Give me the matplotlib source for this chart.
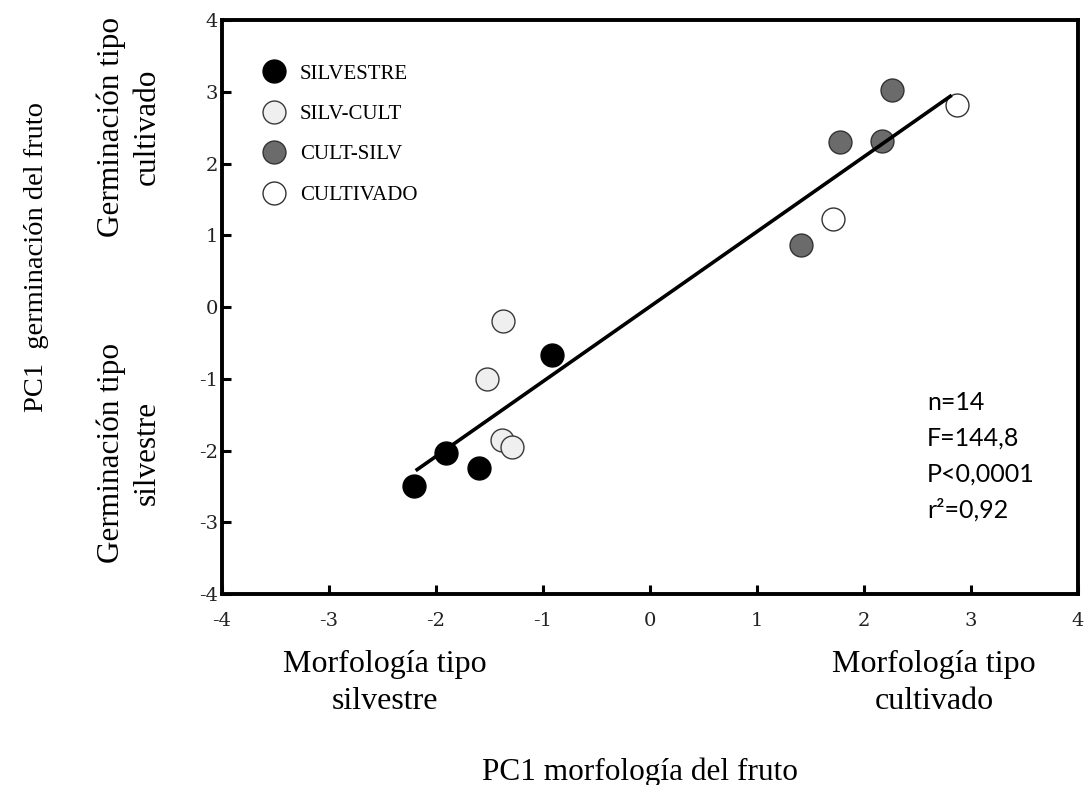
import numpy as np
import matplotlib
matplotlib.use("Agg")
import matplotlib.pyplot as plt
from matplotlib.lines import Line2D

# PC1 scores per population group (x: fruit morphology, y: germination)
groups = ["SILVESTRE", "SILV-CULT", "CULT-SILV", "CULTIVADO"]
silvestre_x = [-0.92, -1.91, -1.60, -2.21]
silvestre_y = [-0.67, -2.04, -2.24, -2.50]
silvcult_x = [-1.37, -1.52, -1.38, -1.29]
silvcult_y = [-0.20, -1.01, -1.85, -1.95]
cultsilv_x = [2.26, 1.78, 2.17, 1.41]
cultsilv_y = [3.02, 2.30, 2.31, 0.87]
cultivado_x = [2.87, 1.71]
cultivado_y = [2.82, 1.23]

# x span covered by the regression line
fit_x_range = [-2.19, 2.82]

tick_values = [-4, -3, -2, -1, 0, 1, 2, 3, 4]
stats_lines = ["n=14", "F=144,8", "P<0,0001", "r\u00b2=0,92"]

fill_colors = ["#000000", "#efefef", "#6b6b6b", "#ffffff"]
edge_colors = ["#000000", "#3a3a3a", "#333333", "#333333"]

SERIF = "Liberation Serif"
TICK_FONT = "DejaVu Serif"
W, H = 1087, 785

fig = plt.figure(figsize=(W / 100, H / 100), dpi=100)
ax = fig.add_axes([222 / W, 1 - 594 / H, (1078 - 222) / W, (594 - 20) / H])

series = [
    (silvestre_x, silvestre_y),
    (silvcult_x, silvcult_y),
    (cultsilv_x, cultsilv_y),
    (cultivado_x, cultivado_y),
]
marker_size = 16.5
for (xs, ys), fc, ec in zip(series, fill_colors, edge_colors):
    ax.scatter(xs, ys, s=marker_size ** 2, c=fc, edgecolors=ec,
               linewidths=1.0, zorder=3)

# least-squares regression over all populations
all_x = np.concatenate([np.asarray(s[0]) for s in series])
all_y = np.concatenate([np.asarray(s[1]) for s in series])
slope, intercept = np.polyfit(all_x, all_y, 1)
fx = np.asarray(fit_x_range)
ax.plot(fx, slope * fx + intercept, color="black", lw=2.6,
        solid_capstyle="butt", zorder=4)

ax.set_xlim(-4, 4)
ax.set_ylim(-4, 4)
ax.set_xticks(tick_values)
ax.set_yticks(tick_values)
ax.set_xticklabels([str(v) for v in tick_values])
ax.set_yticklabels([str(v) for v in tick_values])
ax.tick_params(direction="in", length=6.5, width=2.2, color="black",
               labelsize=14, labelcolor="#222222")
ax.tick_params(axis="x", pad=13)
ax.tick_params(axis="y", pad=3)
for lbl in ax.get_xticklabels() + ax.get_yticklabels():
    lbl.set_family(TICK_FONT)
for sp in ax.spines.values():
    sp.set_linewidth(2.8)
    sp.set_color("black")

# legend
handles = [Line2D([], [], marker="o", ls="none", ms=marker_size,
                  mfc=fc, mec=ec, mew=1.0)
           for fc, ec in zip(fill_colors, edge_colors)]
ax.legend(handles, groups, loc="upper left",
          bbox_to_anchor=(263.6 / W, 1 - 64 / H),
          bbox_transform=fig.transFigure, frameon=False,
          prop={"family": SERIF, "size": 15},
          handlelength=1.0, handletextpad=0.75, labelspacing=1.0,
          borderpad=0, borderaxespad=0)

# regression statistics
for i, line in enumerate(stats_lines):
    fig.text(927 / W, 1 - (402 + i * 36) / H, line, family="Lato",
             fontsize=18, ha="left", va="center")

# axis titles and end-of-axis descriptors
fig.text(640 / W, 1 - 772 / H, "PC1 morfología del fruto", family=SERIF,
         fontsize=22.5, ha="center", va="center")
fig.text(385 / W, 1 - 683 / H, "Morfología tipo\nsilvestre", family=SERIF,
         fontsize=23, ha="center", va="center", linespacing=1.35)
fig.text(934 / W, 1 - 683 / H, "Morfología tipo\ncultivado", family=SERIF,
         fontsize=23, ha="center", va="center", linespacing=1.35)

fig.text(37 / W, 1 - 257 / H, "PC1  germinación del fruto", family=SERIF,
         fontsize=20.5, ha="center", va="center", rotation=90)
fig.text(129 / W, 1 - 127 / H, "Germinación tipo\ncultivado", family=SERIF,
         fontsize=22.5, ha="center", va="center", rotation=90,
         linespacing=1.3)
fig.text(129 / W, 1 - 453 / H, "Germinación tipo\nsilvestre", family=SERIF,
         fontsize=22.5, ha="center", va="center", rotation=90,
         linespacing=1.3)

fig.savefig("out.png", dpi=100, facecolor="white")
